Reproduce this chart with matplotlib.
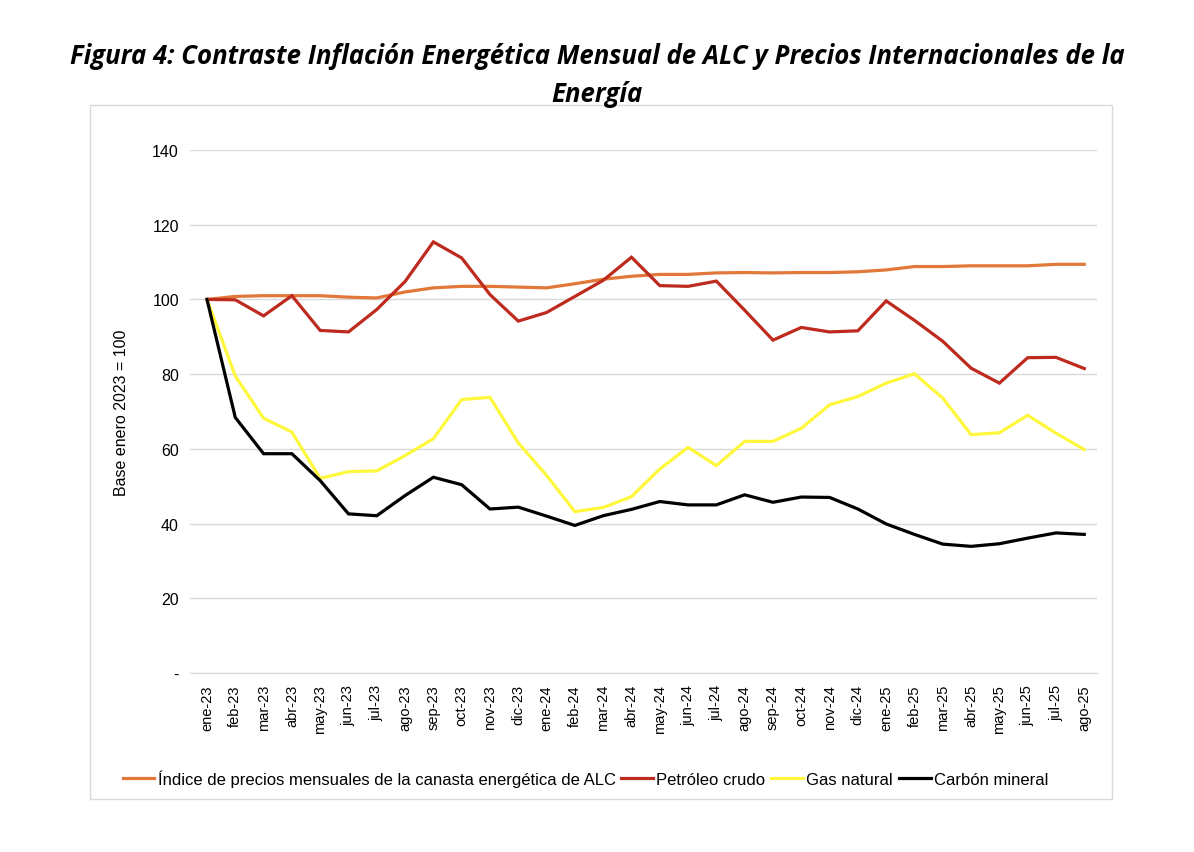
import matplotlib

matplotlib.use("Agg")
import matplotlib.pyplot as plt
from matplotlib.patches import Rectangle

months = ["ene-23", "feb-23", "mar-23", "abr-23", "may-23", "jun-23", "jul-23", "ago-23",
          "sep-23", "oct-23", "nov-23", "dic-23", "ene-24", "feb-24", "mar-24", "abr-24",
          "may-24", "jun-24", "jul-24", "ago-24", "sep-24", "oct-24", "nov-24", "dic-24",
          "ene-25", "feb-25", "mar-25", "abr-25", "may-25", "jun-25", "jul-25", "ago-25"]

indice_alc = [100, 100.8, 101, 101, 101, 100.6, 100.4, 102, 103.1, 103.5, 103.5, 103.3,
              103.1, 104.2, 105.4, 106.2, 106.7, 106.7, 107.1, 107.2, 107.1, 107.2, 107.2,
              107.4, 107.9, 108.8, 108.8, 109, 109, 109, 109.4, 109.4]
petroleo = [100, 99.9, 95.6, 101, 91.7, 91.3, 97.3, 104.8, 115.4, 111.1, 101.3, 94.2,
            96.5, 100.8, 105.1, 111.3, 103.7, 103.5, 104.9, 97.1, 89.1, 92.5, 91.3, 91.6,
            99.6, 94.4, 88.8, 81.6, 77.6, 84.4, 84.5, 81.5]
gas_natural = [100, 79.5, 68.2, 64.5, 52.1, 53.9, 54.1, 58.2, 62.7, 73.2, 73.8, 61.6,
               52.9, 43.2, 44.3, 47.2, 54.6, 60.4, 55.5, 62, 62, 65.5, 71.8, 74,
               77.6, 80.1, 73.6, 63.8, 64.3, 69, 64.2, 59.8]
carbon = [100, 68.4, 58.7, 58.7, 51.5, 42.6, 42.1, 47.5, 52.4, 50.4, 43.9, 44.4,
          42, 39.5, 42.1, 43.8, 45.9, 45, 45, 47.7, 45.7, 47.1, 47, 43.9,
          39.9, 37.1, 34.5, 33.9, 34.6, 36.1, 37.5, 37.1]

series = [
    ("Índice de precios mensuales de la canasta energética de ALC", indice_alc, "#E2773A"),
    ("Petróleo crudo", petroleo, "#BE2A1E"),
    ("Gas natural", gas_natural, "#FFF73C"),
    ("Carbón mineral", carbon, "#000000"),
]

plt.rcParams["font.family"] = ["Liberation Sans", "DejaVu Sans"]

fig = plt.figure(figsize=(11.94, 8.53), dpi=100)
fig.patches.append(Rectangle((90 / 1194, 1 - 800 / 853), 1022 / 1194, 694 / 853,
                             transform=fig.transFigure, fill=False,
                             edgecolor="#D9D9D9", linewidth=1.0))

ax = fig.add_axes([190 / 1194, 1 - 674 / 853, 907 / 1194, 523 / 853])
x = range(len(months))
for label, vals, color in series:
    ax.plot(x, vals, color=color, linewidth=2.3, label=label, solid_joinstyle="miter")

ax.set_ylim(0, 140)
ax.set_xlim(-0.6, 31.45)
ax.set_yticks(range(0, 141, 20))
ax.set_yticklabels(["-"] + [str(v) for v in range(20, 141, 20)], fontsize=11.5)
ax.set_xticks(list(x))
ax.set_xticklabels(months, rotation=90, fontsize=10.5)
ax.tick_params(length=0, pad=8)
ax.grid(axis="y", color="#D9D9D9", linewidth=1.0)
ax.set_axisbelow(True)
for side in ["top", "right", "left"]:
    ax.spines[side].set_visible(False)
ax.spines["bottom"].set_color("#D9D9D9")
ax.set_ylabel("Base enero 2023 = 100", fontsize=11.5, labelpad=17)

ax.legend(loc="upper center", bbox_to_anchor=(0.436, -0.155), ncol=4, frameon=False,
          fontsize=12, handlelength=1.9, handletextpad=0.2, columnspacing=0.35)

title_font = ["Open Sans", "DejaVu Sans"]
fig.text(0.5, 1 - 57 / 853,
         "Figura 4: Contraste Inflación Energética Mensual de ALC y Precios Internacionales de la",
         ha="center", va="center", fontsize=18.5, fontweight="bold", style="italic",
         family=title_font)
fig.text(0.5, 1 - 95 / 853, "Energía", ha="center", va="center", fontsize=18.5,
         fontweight="bold", style="italic", family=title_font)

fig.savefig("out.png", dpi=100)
